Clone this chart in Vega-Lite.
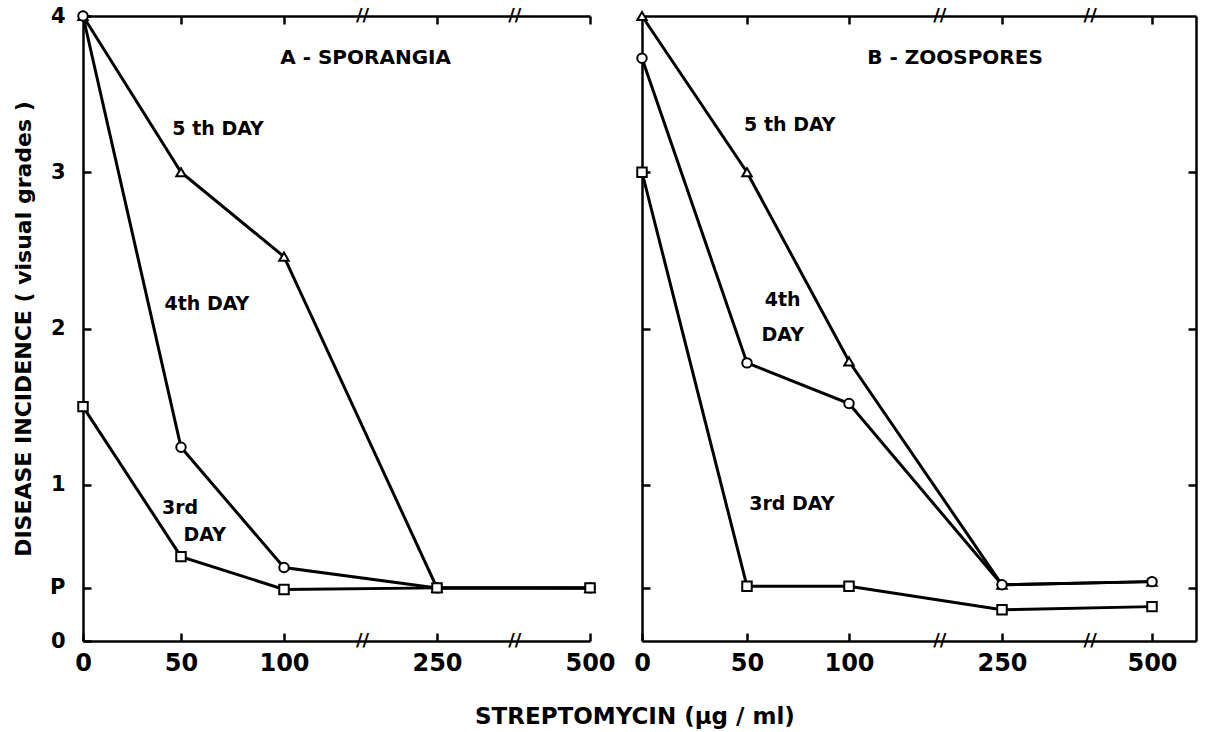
{
  "$schema": "https://vega.github.io/schema/vega-lite/v6.json",
  "background": "white",
  "padding": {"left": 12, "top": 5, "right": 5, "bottom": 5},
  "datasets": {
    "series": [
      {"panel": "A", "day": "5th", "conc": 0, "grade": 4},
      {"panel": "A", "day": "5th", "conc": 50, "grade": 3},
      {"panel": "A", "day": "5th", "conc": 100, "grade": 2.46},
      {"panel": "A", "day": "5th", "conc": 250, "grade": 0.34},
      {"panel": "A", "day": "5th", "conc": 500, "grade": 0.34},
      {"panel": "A", "day": "4th", "conc": 0, "grade": 4},
      {"panel": "A", "day": "4th", "conc": 50, "grade": 1.24},
      {"panel": "A", "day": "4th", "conc": 100, "grade": 0.47},
      {"panel": "A", "day": "4th", "conc": 250, "grade": 0.34},
      {"panel": "A", "day": "4th", "conc": 500, "grade": 0.34},
      {"panel": "A", "day": "3rd", "conc": 0, "grade": 1.5},
      {"panel": "A", "day": "3rd", "conc": 50, "grade": 0.54},
      {"panel": "A", "day": "3rd", "conc": 100, "grade": 0.33},
      {"panel": "A", "day": "3rd", "conc": 250, "grade": 0.34},
      {"panel": "A", "day": "3rd", "conc": 500, "grade": 0.34},
      {"panel": "B", "day": "5th", "conc": 0, "grade": 4},
      {"panel": "B", "day": "5th", "conc": 50, "grade": 3},
      {"panel": "B", "day": "5th", "conc": 100, "grade": 1.79},
      {"panel": "B", "day": "5th", "conc": 250, "grade": 0.36},
      {"panel": "B", "day": "5th", "conc": 500, "grade": 0.38},
      {"panel": "B", "day": "4th", "conc": 0, "grade": 3.73},
      {"panel": "B", "day": "4th", "conc": 50, "grade": 1.78},
      {"panel": "B", "day": "4th", "conc": 100, "grade": 1.52},
      {"panel": "B", "day": "4th", "conc": 250, "grade": 0.36},
      {"panel": "B", "day": "4th", "conc": 500, "grade": 0.38},
      {"panel": "B", "day": "3rd", "conc": 0, "grade": 3.0},
      {"panel": "B", "day": "3rd", "conc": 50, "grade": 0.35},
      {"panel": "B", "day": "3rd", "conc": 100, "grade": 0.35},
      {"panel": "B", "day": "3rd", "conc": 250, "grade": 0.2},
      {"panel": "B", "day": "3rd", "conc": 500, "grade": 0.22}
    ],
    "labels": [
      {"panel": "A", "text": "A - SPORANGIA", "conc": 180, "grade": 3.73, "size": 20},
      {"panel": "A", "text": "5 th DAY", "conc": 68, "grade": 3.28, "size": 19},
      {"panel": "A", "text": "4th DAY", "conc": 62.6, "grade": 2.16, "size": 19},
      {"panel": "A", "text": "3rd", "conc": 49.5, "grade": 0.85, "size": 19},
      {"panel": "A", "text": "DAY", "conc": 61.5, "grade": 0.68, "size": 19},
      {"panel": "B", "text": "B - ZOOSPORES", "conc": 204, "grade": 3.73, "size": 20},
      {"panel": "B", "text": "5 th DAY", "conc": 71, "grade": 3.3, "size": 19},
      {"panel": "B", "text": "4th", "conc": 67.5, "grade": 2.18, "size": 19},
      {"panel": "B", "text": "DAY", "conc": 67.5, "grade": 1.96, "size": 19},
      {"panel": "B", "text": "3rd DAY", "conc": 72, "grade": 0.88, "size": 19}
    ],
    "breaks": [
      {"panel": "A", "conc": 177, "grade": 0},
      {"panel": "A", "conc": 377, "grade": 0},
      {"panel": "A", "conc": 177, "grade": 4},
      {"panel": "A", "conc": 377, "grade": 4},
      {"panel": "B", "conc": 189, "grade": 0},
      {"panel": "B", "conc": 397, "grade": 0},
      {"panel": "B", "conc": 189, "grade": 4},
      {"panel": "B", "conc": 397, "grade": 4}
    ]
  },
  "title": {
    "text": "STREPTOMYCIN  (μg / ml)",
    "orient": "bottom",
    "anchor": "middle",
    "font": "DejaVu Sans",
    "fontSize": 23,
    "fontWeight": "bold",
    "color": "black",
    "offset": 31,
    "dx": 30
  },
  "spacing": 17,
  "hconcat": [
    {
      "width": 508,
      "height": 625,
      "layer": [
        {
          "data": {"name": "series"},
          "transform": [{"filter": "datum.panel == 'A'"}],
          "mark": {"type": "line", "color": "black", "strokeWidth": 3},
          "encoding": {
            "x": {"field": "conc", "type": "quantitative",
              "scale": {"domain": [0, 50, 100, 250, 500], "range": [0, 98, 201, 354, 507], "nice": false, "zero": false},
              "axis": {"orient": "bottom", "values": [0, 50, 100, 250, 500], "title": null, "labelFontSize": 24, "labelPadding": 18, "tickSize": -8}},
            "y": {"field": "grade", "type": "quantitative",
              "scale": {"domain": [0, 4], "nice": false, "zero": false},
              "axis": {"orient": "left", "values": [0, 0.34, 1, 2, 3, 4], "labelExpr": "datum.value > 0.3 && datum.value < 0.4 ? 'P' : format(datum.value, 'd')",
                "title": "DISEASE INCIDENCE ( visual grades )", "titleFontSize": 22, "titlePadding": 14,
                "labelFontSize": 21, "labelPadding": 26, "tickSize": -8}},
            "detail": {"field": "day"}
          }
        },
        {
          "data": {"name": "series"},
          "transform": [{"filter": "datum.panel == 'A'"}],
          "mark": {"type": "point", "filled": true, "fill": "white", "stroke": "black", "strokeWidth": 2, "size": 90, "opacity": 1},
          "encoding": {
            "x": {"field": "conc", "type": "quantitative",
              "axis": {"orient": "top", "values": [50, 100, 250, 500], "labels": false, "title": null, "tickSize": -8}},
            "y": {"field": "grade", "type": "quantitative", "axis": null},
            "shape": {"field": "day", "type": "nominal", "legend": null,
              "scale": {"domain": ["5th", "4th", "3rd"], "range": ["triangle-up", "circle", "square"]}}
          }
        },
        {
          "data": {"name": "labels"},
          "transform": [{"filter": "datum.panel == 'A'"}],
          "mark": {"type": "text", "font": "DejaVu Sans", "fontWeight": "bold", "color": "black", "align": "center", "baseline": "middle"},
          "encoding": {
            "x": {"field": "conc", "type": "quantitative", "axis": null},
            "y": {"field": "grade", "type": "quantitative", "axis": null},
            "text": {"field": "text"},
            "size": {"field": "size", "type": "quantitative", "scale": null}
          }
        },
        {
          "data": {"name": "breaks"},
          "transform": [{"filter": "datum.panel == 'A'"}],
          "mark": {"type": "text", "text": "//", "font": "DejaVu Sans", "fontWeight": "bold", "fontSize": 18, "color": "black", "align": "center", "baseline": "middle"},
          "encoding": {
            "x": {"field": "conc", "type": "quantitative", "axis": null},
            "y": {"field": "grade", "type": "quantitative", "axis": null}
          }
        }
      ],
      "resolve": {"axis": {"x": "independent", "y": "independent"}}
    },
    {
      "width": 554,
      "height": 625,
      "layer": [
        {
          "data": {"name": "series"},
          "transform": [{"filter": "datum.panel == 'B'"}],
          "mark": {"type": "line", "color": "black", "strokeWidth": 3},
          "encoding": {
            "x": {"field": "conc", "type": "quantitative",
              "scale": {"domain": [0, 50, 100, 250, 500, 573], "range": [0, 105, 207, 360, 510, 554], "nice": false, "zero": false},
              "axis": {"orient": "bottom", "values": [0, 50, 100, 250, 500], "title": null, "labelFontSize": 24, "labelPadding": 18, "tickSize": -8}},
            "y": {"field": "grade", "type": "quantitative",
              "scale": {"domain": [0, 4], "nice": false, "zero": false},
              "axis": {"orient": "left", "values": [0.34, 1, 2, 3], "labels": false, "title": null, "tickSize": -8}},
            "detail": {"field": "day"}
          }
        },
        {
          "data": {"name": "series"},
          "transform": [{"filter": "datum.panel == 'B'"}],
          "mark": {"type": "point", "filled": true, "fill": "white", "stroke": "black", "strokeWidth": 2, "size": 90, "opacity": 1},
          "encoding": {
            "x": {"field": "conc", "type": "quantitative",
              "axis": {"orient": "top", "values": [50, 100, 250, 500], "labels": false, "title": null, "tickSize": -8}},
            "y": {"field": "grade", "type": "quantitative",
              "axis": {"orient": "right", "values": [0.34, 1, 2, 3], "labels": false, "title": null, "tickSize": -8}},
            "shape": {"field": "day", "type": "nominal", "legend": null,
              "scale": {"domain": ["5th", "4th", "3rd"], "range": ["triangle-up", "circle", "square"]}}
          }
        },
        {
          "data": {"name": "labels"},
          "transform": [{"filter": "datum.panel == 'B'"}],
          "mark": {"type": "text", "font": "DejaVu Sans", "fontWeight": "bold", "color": "black", "align": "center", "baseline": "middle"},
          "encoding": {
            "x": {"field": "conc", "type": "quantitative", "axis": null},
            "y": {"field": "grade", "type": "quantitative", "axis": null},
            "text": {"field": "text"},
            "size": {"field": "size", "type": "quantitative", "scale": null}
          }
        },
        {
          "data": {"name": "breaks"},
          "transform": [{"filter": "datum.panel == 'B'"}],
          "mark": {"type": "text", "text": "//", "font": "DejaVu Sans", "fontWeight": "bold", "fontSize": 18, "color": "black", "align": "center", "baseline": "middle"},
          "encoding": {
            "x": {"field": "conc", "type": "quantitative", "axis": null},
            "y": {"field": "grade", "type": "quantitative", "axis": null}
          }
        }
      ],
      "resolve": {"axis": {"x": "independent", "y": "independent"}}
    }
  ],
  "config": {
    "view": {"stroke": null},
    "axis": {
      "grid": false,
      "domainColor": "black",
      "domainWidth": 2.5,
      "tickColor": "black",
      "tickWidth": 2.5,
      "labelFont": "DejaVu Sans",
      "labelFontWeight": "bold",
      "labelColor": "black",
      "titleFont": "DejaVu Sans",
      "titleFontWeight": "bold",
      "titleColor": "black",
      "labelFlush": false,
      "labelOverlap": false
    }
  }
}
